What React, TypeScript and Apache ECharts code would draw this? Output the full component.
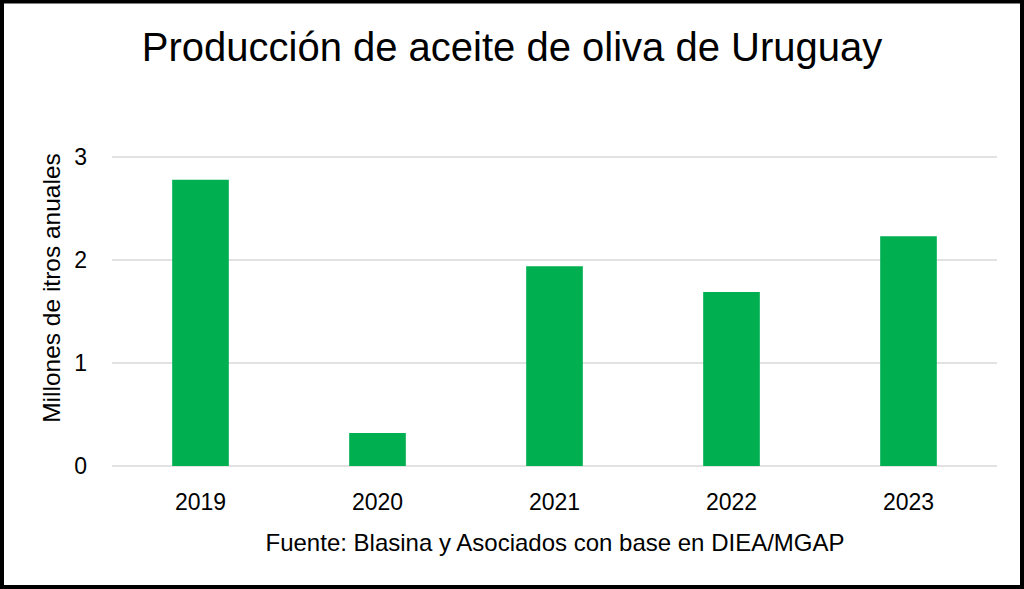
import React, { useEffect, useRef } from "react";
import * as echarts from "echarts";

const years = ["2019", "2020", "2021", "2022", "2023"];
const production = [2.78, 0.32, 1.94, 1.69, 2.23];
const titleText = "Producción de aceite de oliva de Uruguay";
const yAxisName = "Millones de itros anuales";
const sourceText = "Fuente: Blasina y Asociados con base en DIEA/MGAP";

const FONT = "'Liberation Sans', Arial, sans-serif";

export default function App() {
  const ref = useRef<HTMLDivElement>(null);
  useEffect(() => {
    if (!ref.current) return;
    const chart = echarts.init(ref.current, undefined, { renderer: "svg" });
    chart.setOption({
      animation: false,
      backgroundColor: "#ffffff",
      title: {
        text: titleText,
        left: "center",
        top: 22,
        textStyle: { fontFamily: FONT, fontSize: 40, fontWeight: "normal", color: "#000000" },
      },
      grid: { left: 112, right: 27, top: 157, bottom: 123, containLabel: false, outerBoundsMode: "none" },
      xAxis: {
        type: "category",
        data: years,
        axisLine: { show: false },
        axisTick: { show: false },
        axisLabel: { fontFamily: FONT, fontSize: 23, color: "#000000", margin: 24 },
      },
      yAxis: {
        type: "value",
        min: 0,
        max: 3,
        interval: 1,
        axisLine: { show: false },
        axisTick: { show: false },
        axisLabel: { fontFamily: FONT, fontSize: 23, color: "#000000", margin: 25 },
        splitLine: { lineStyle: { color: "#d9d9d9", width: 1.5 } },
      },
      series: [
        {
          type: "bar",
          data: production,
          barWidth: "32%",
          itemStyle: { color: "#00b050" },
        },
      ],
      graphic: [
        {
          type: "text",
          x: 51,
          y: 288,
          rotation: Math.PI / 2,
          style: {
            text: yAxisName,
            fontFamily: FONT,
            fontSize: 24.5,
            fill: "#000000",
            textAlign: "center",
            textVerticalAlign: "middle",
          },
        },
        {
          type: "text",
          x: 555,
          y: 542,
          style: {
            text: sourceText,
            fontFamily: FONT,
            fontSize: 24,
            fill: "#000000",
            textAlign: "center",
            textVerticalAlign: "middle",
          },
        },
        {
          type: "rect",
          shape: { x: 2, y: 1.5, width: 1020, height: 585.5 },
          style: { fill: "none", stroke: "#000000", lineWidth: 4 },
          silent: true,
        },
      ],
    });
    return () => chart.dispose();
  }, []);
  return (
    <div style={{ position: "fixed", left: 0, top: 0, width: 1024, height: 589, background: "#fff" }}>
      <div ref={ref} style={{ width: 1024, height: 589 }} />
    </div>
  );
}
